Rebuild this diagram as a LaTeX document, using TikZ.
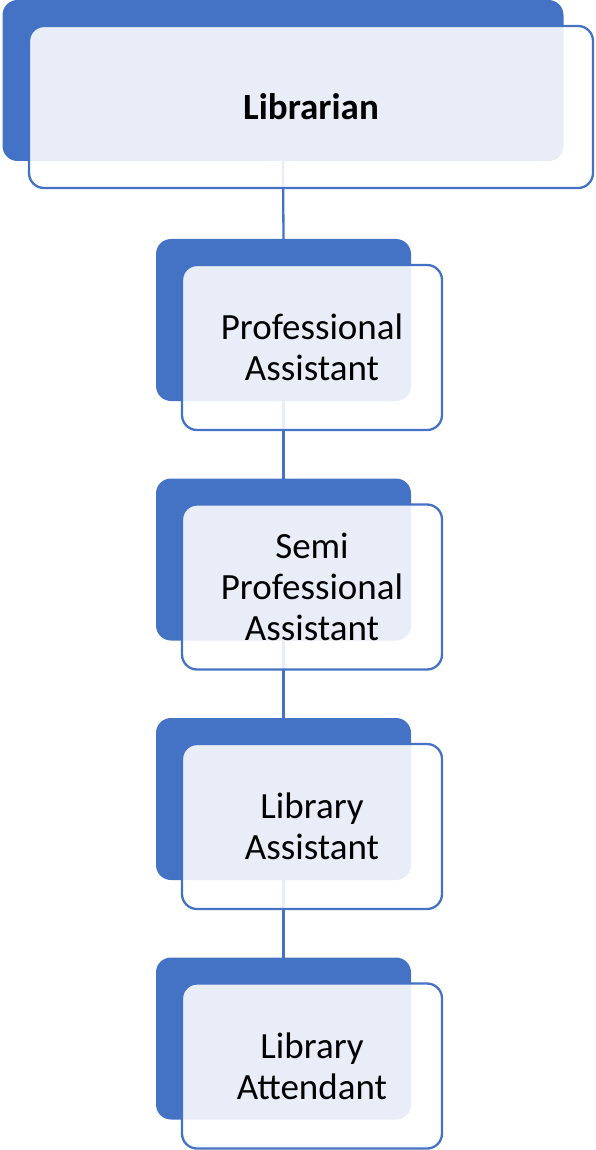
\documentclass[tikz,border=0pt]{standalone}
\usepackage{fontspec}
\setmainfont{Carlito}
\definecolor{accent}{HTML}{4472C4}
\tikzset{
  backbox/.style={fill=accent, rounded corners=15pt, inner sep=0pt, outer sep=0pt},
  frontbox/.style={draw=accent, line width=2.3pt, fill=white, fill opacity=0.88, text opacity=1,
    rounded corners=15pt, inner sep=0pt, outer sep=0pt, align=center,
    font=\fontsize{37}{41}\selectfont},
  link/.style={draw=accent, line width=2.3pt}
}
\begin{document}
\begin{tikzpicture}[x=1pt,y=-1pt]
\useasboundingbox (0,0) rectangle (595,1150);
% back boxes
\node[backbox, minimum width=561pt, minimum height=161pt] (b1) at (283,80.5) {};
\foreach \k/\t in {2/239,3/478.5,4/718,5/957.5}{
  \node[backbox, minimum width=255pt, minimum height=162pt] (b\k) at (283.5,\t+81) {};
}
% connectors
\draw[link] (b1.south) -- (b2.north);
\draw[link] (b2.south) -- (b3.north);
\draw[link] (b3.south) -- (b4.north);
\draw[link] (b4.south) -- (b5.north);
% front boxes
\node[frontbox, minimum width=564pt, minimum height=162pt] (f1) at (311,107) {\bfseries Librarian};
\node[frontbox, minimum width=260pt, minimum height=165pt] (f2) at (312,239+108.5) {Professional\\Assistant};
\node[frontbox, minimum width=260pt, minimum height=165pt] (f3) at (312,478.5+108.5) {Semi\\Professional\\Assistant};
\node[frontbox, minimum width=260pt, minimum height=165pt] (f4) at (312,718+108.5) {Library\\Assistant};
\node[frontbox, minimum width=260pt, minimum height=165pt] (f5) at (312,957.5+108.5) {Library\\Attendant};
\end{tikzpicture}
\end{document}
